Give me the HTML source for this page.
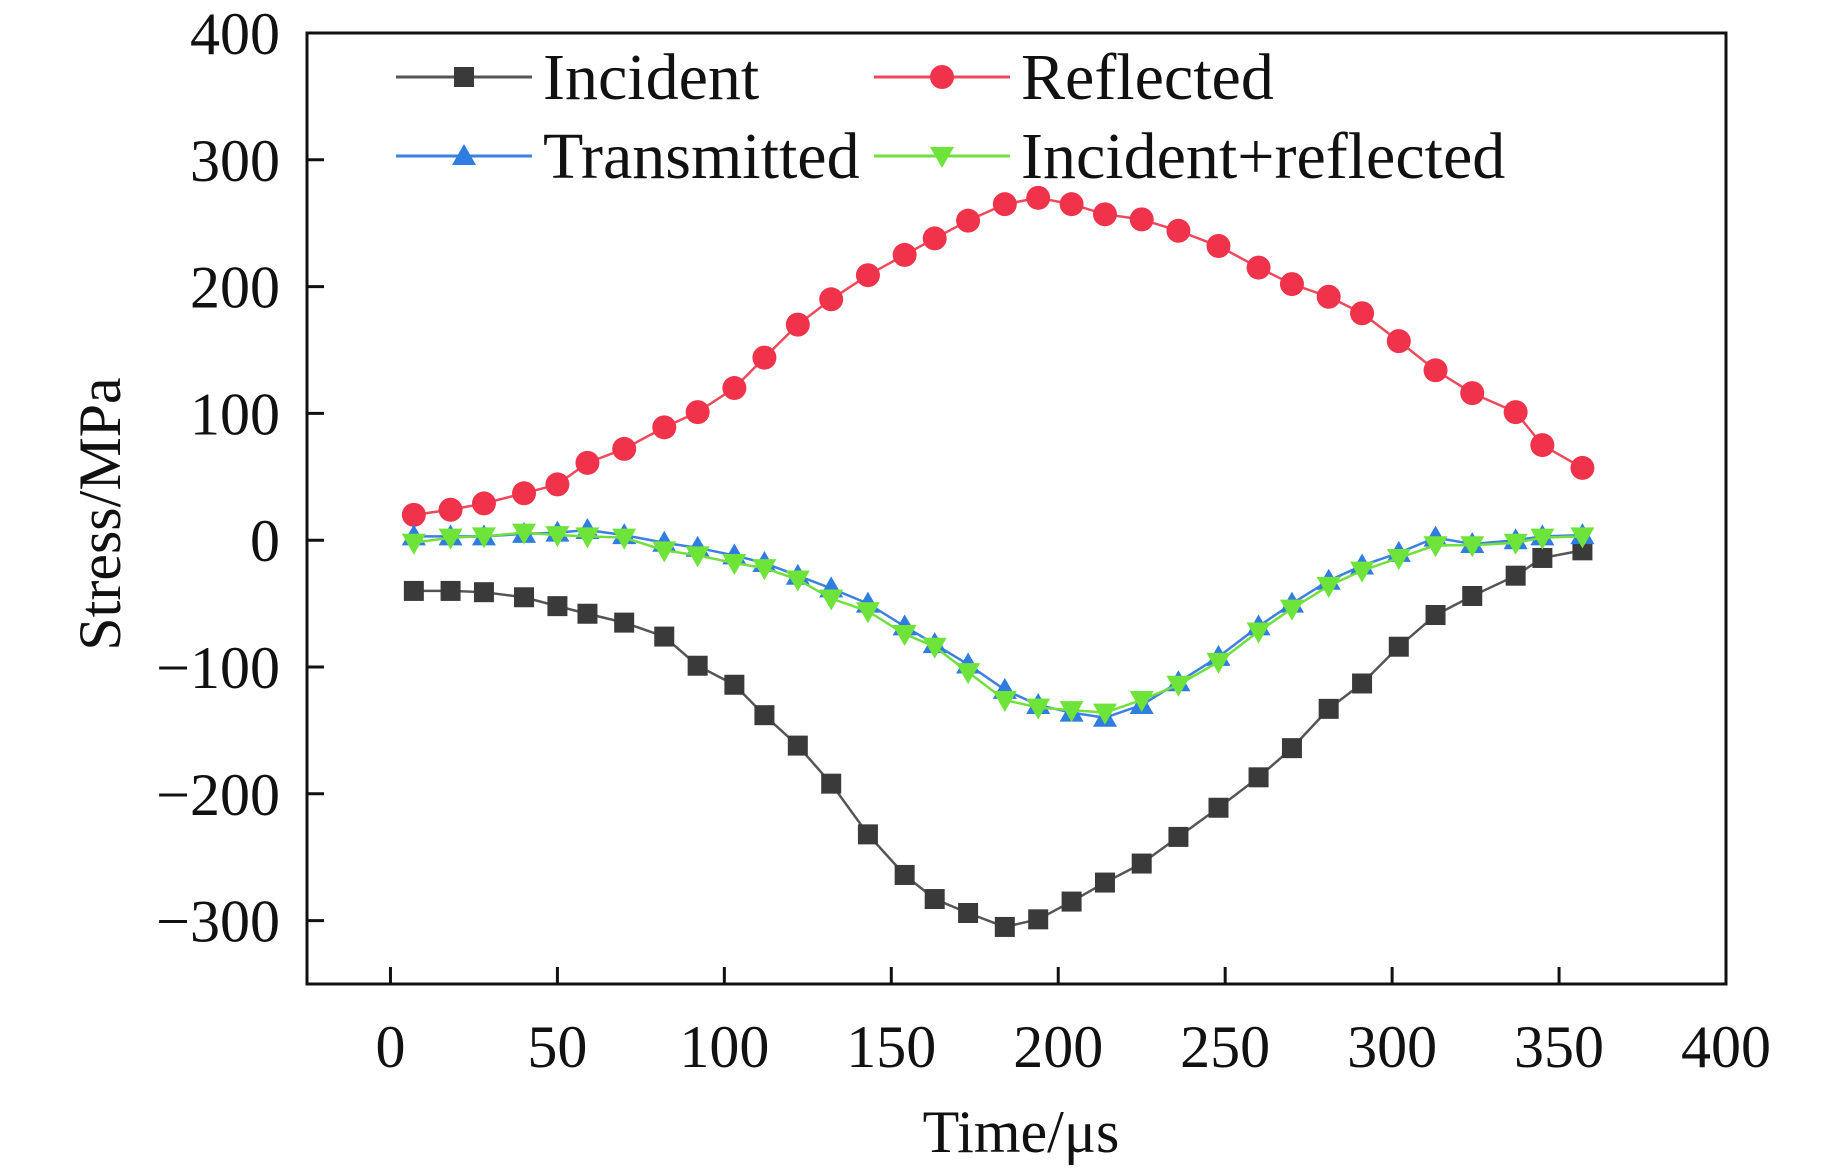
<!DOCTYPE html>
<html><head><meta charset="utf-8"><style>
html,body{margin:0;padding:0;background:#fff}
svg{display:block}
text{font-family:"Liberation Serif",serif;fill:#111}
</style></head><body>
<svg id="chart" width="1843" height="1168" viewBox="0 0 1843 1168">
<g id="axes"></g>
<g id="series"></g>
<g id="legend"></g>
</svg>
<script>
const times=[7,18,28,40,50,59,70,82,92,103,112,122,132,143,154,163,173,184,194,204,214,225,236,248,260,270,281,291,302,313,324,337,345,357];
const incident=[-40,-40,-41,-45,-52,-58,-65,-76,-99,-114,-138,-162,-192,-232,-264,-283,-294,-305,-299,-285,-270,-255,-234,-211,-187,-164,-133,-113,-84,-59,-44,-28,-14,-8];
const reflected=[20,24,29,37,44,61,72,89,101,120,144,170,190,209,225,238,252,265,270,265,257,253,244,232,215,202,192,179,157,134,116,101,75,57];
const transmitted=[3,3,3,5,6,8,4,-2,-6,-12,-18,-28,-38,-50,-68,-82,-98,-118,-130,-136,-140,-130,-112,-92,-68,-50,-32,-20,-10,2,-3,0,3,4];
const incRefl=[-2,2,3,6,4,3,2,-8,-12,-18,-22,-31,-46,-56,-74,-84,-104,-126,-132,-134,-136,-126,-114,-96,-72,-54,-36,-24,-14,-4,-4,-2,2,3];
const xTicks=[0,50,100,150,200,250,300,350,400];
const yTicks=[400,300,200,100,0,-100,-200,-300];

const NS='http://www.w3.org/2000/svg';
const L=307,R=1726,T=33,B=984;
const X0=-25,X1=400,Y0=-350,Y1=400;
const sx=v=>L+(v-X0)/(X1-X0)*(R-L);
const sy=v=>B-(v-Y0)/(Y1-Y0)*(B-T);
function mk(tag,attrs,parent,txt){const e=document.createElementNS(NS,tag);for(const k in attrs)e.setAttribute(k,attrs[k]);if(txt!==undefined)e.textContent=txt;parent.appendChild(e);return e;}
const axes=document.getElementById('axes');
let fr=mk('rect',{x:L,y:T,width:R-L,height:B-T,fill:'none',stroke:'#111','stroke-width':3},axes);


xTicks.forEach(v=>{
 let t=mk('line',{x1:sx(v),x2:sx(v),y1:B,y2:B-17,stroke:'#111','stroke-width':3},axes);
 
 
 let lb=mk('text',{x:sx(v),y:1067,'font-size':60,'text-anchor':'middle'},axes,String(v));
 
 
});
yTicks.forEach(v=>{
 let t=mk('line',{x1:L,x2:L+17,y1:sy(v),y2:sy(v),stroke:'#111','stroke-width':3},axes);
 
 
 let lb=mk('text',{x:280,y:sy(v)+21,'font-size':60,'text-anchor':'end'},axes,v<0?'\u2212'+Math.abs(v):String(v));
 
 
});
let xt=mk('text',{x:1021,y:1152,'font-size':60,'text-anchor':'middle'},axes,'Time/\u03bcs');


let yt=mk('text',{x:0,y:0,'font-size':60,'text-anchor':'middle',transform:'translate(120,514) rotate(-90)'},axes,'Stress/MPa');



function marker(g,type,x,y,color){
 let e;
 if(type==='sq')e=mk('rect',{x:x-10,y:y-10,width:20,height:20,fill:color},g);
 else if(type==='ci')e=mk('circle',{cx:x,cy:y,r:12,fill:color},g);
 else if(type==='up')e=mk('polygon',{points:`${x},${y-12} ${x-12},${y+9} ${x+12},${y+9}`,fill:color},g);
 else e=mk('polygon',{points:`${x},${y+12} ${x-12},${y-9} ${x+12},${y-9}`,fill:color},g);
 
 
}
const ser=document.getElementById('series');
const defs=[
 {name:'reflected',data:reflected,line:'#ef4a5c',mark:'#f0334a',type:'ci'},
 {name:'incident',data:incident,line:'#555',mark:'#3a3a3a',type:'sq'},
 {name:'transmitted',data:transmitted,line:'#3b82e0',mark:'#2f7de1',type:'up'},
 {name:'incident-reflected',data:incRefl,line:'#72df3f',mark:'#6ee43a',type:'dn'}
];
defs.forEach(d=>{
 const g=mk('g',{},ser);
 
 
 const pts=d.data.map((v,i)=>sx(times[i])+','+sy(v)).join(' ');
 let pl=mk('polyline',{points:pts,fill:'none',stroke:d.line,'stroke-width':2.5},g);
 
 
 d.data.forEach((v,i)=>marker(g,d.type,sx(times[i]),sy(v),d.mark));
});
const leg=document.getElementById('legend');
[[396,77,'Incident',1],[874,77,'Reflected',0],[396,156,'Transmitted',2],[874,156,'Incident+reflected',3]].forEach(([x,y,txt,k])=>{
 const d=defs[k];
 const g=mk('g',{},leg);
 
 
 mk('line',{x1:x,x2:x+136,y1:y,y2:y,stroke:d.line,'stroke-width':3},g);
 marker(g,d.type,x+68,y,d.mark);
 mk('text',{x:x+147,y:y+22,'font-size':66},g,txt);
});
</script>
</body></html>
